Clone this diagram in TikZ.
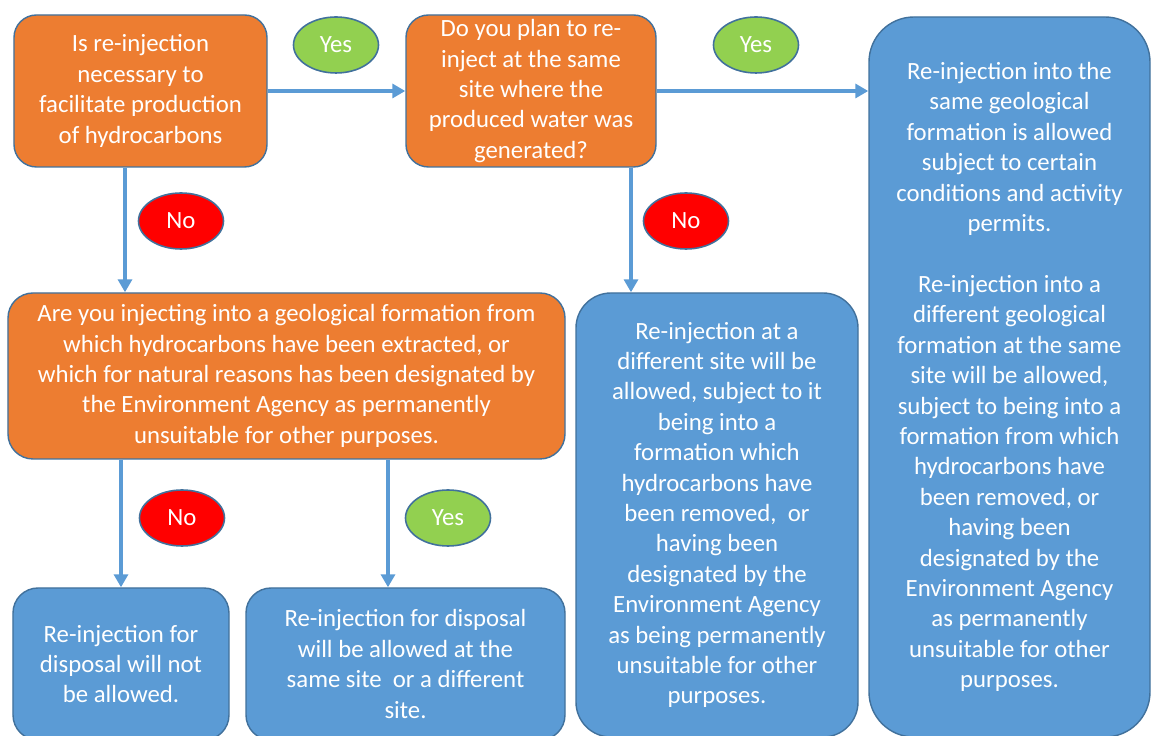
\documentclass[tikz,border=0pt]{standalone}
\usepackage{fontspec}
\setmainfont{Carlito}
\usetikzlibrary{positioning,arrows.meta,shapes.geometric}
\definecolor{quest}{RGB}{237,125,49}
\definecolor{answ}{RGB}{91,155,213}
\definecolor{okgreen}{RGB}{146,208,80}
\definecolor{outline}{RGB}{65,113,156}
\tikzset{
  >={Triangle[width=2.8mm,length=2.6mm]},
  box/.style     ={draw=outline, line width=0.8pt, text=white, align=center, inner sep=0pt,
                   font=\fontsize{14.1}{17.3}\selectfont},
  question/.style={box, fill=quest, rounded corners=4.5mm},
  answer/.style  ={box, fill=answ},
  bubble/.style  ={ellipse, draw=outline, line width=0.9pt, text=white, inner sep=0pt,
                   minimum width=17mm, minimum height=11.2mm, font=\fontsize{14.1}{17.3}\selectfont},
  yesbub/.style  ={bubble, fill=okgreen},
  nobub/.style   ={bubble, fill=red},
  flow/.style    ={draw=answ, line width=2.2pt, ->},
}

\begin{document}
\begin{tikzpicture}
  \clip (0,0) rectangle (23.02,14.72);

  % questions
  \node[question, minimum width=5.06cm, minimum height=3.04cm] (necessary) at (2.81,12.9)
    {Is re-injection\\necessary to\\facilitate production\\of hydrocarbons};
  \node[question, minimum width=5.0cm, minimum height=3.04cm] (samesite) at (10.62,12.9)
    {Do you plan to re-\\inject at the same\\site where the\\produced water was\\generated?};
  \node[question, minimum width=11.14cm, minimum height=3.32cm, rounded corners=5mm] (formation) at (5.73,7.2)
    {Are you injecting into a geological formation from\\which hydrocarbons have been extracted, or\\which for natural reasons has been designated by\\the Environment Agency as permanently\\unsuitable for other purposes.};

  % outcomes
  \node[answer, minimum width=5.62cm, minimum height=14.4cm, rounded corners=9mm] (allowed) at (20.19,7.18)
    {Re-injection into the\\same geological\\formation is allowed\\subject to certain\\conditions and activity\\permits.\\[17.3pt]
     Re-injection into a\\different geological\\formation at the same\\site will be allowed,\\subject to being into a\\formation from which\\hydrocarbons have\\been removed, or\\having been\\designated by the\\Environment Agency\\as permanently\\unsuitable for other\\purposes.};
  \node[answer, minimum width=5.64cm, minimum height=8.88cm, rounded corners=7mm] (othersite) at (14.34,4.42)
    {Re-injection at a\\different site will be\\allowed, subject to it\\being into a\\formation which\\hydrocarbons have\\been removed,~ or\\having been\\designated by the\\Environment Agency\\as being permanently\\unsuitable for other\\purposes.};
  \node[answer, minimum width=4.32cm, minimum height=3.04cm, rounded corners=5mm] (refused) at (2.42,1.44)
    {Re-injection for\\disposal will not\\be allowed.};
  \node[answer, minimum width=6.38cm, minimum height=3.04cm, rounded corners=5mm] (disposal) at (8.11,1.44)
    {Re-injection for disposal\\will be allowed at the\\same site~ or a different\\site.};

  % arrows
  \draw[flow] (necessary.east) -- (samesite.west);
  \draw[flow] (samesite.east) -- (samesite.east -| allowed.west);
  \draw[flow] ([xshift=-3.1mm]necessary.south) -- ([xshift=-3.1mm]necessary.south |- formation.north);
  \draw[flow] ([xshift=20mm]samesite.south) -- ([xshift=20mm]samesite.south |- othersite.north);
  \draw[flow] (refused.north |- formation.south) -- (refused.north);
  \draw[flow] ([xshift=-3.5mm]disposal.north |- formation.south) -- ([xshift=-3.5mm]disposal.north);

  % answers
  \node[yesbub] (yes1) at (6.72,13.82) {Yes};
  \node[yesbub] (yes2) at (15.12,13.82) {Yes};
  \node[nobub]  (no1)  at (3.62,10.3) {No};
  \node[nobub]  (no2)  at (13.72,10.3) {No};
  \node[nobub]  (no3)  at (3.64,4.36) {No};
  \node[yesbub] (yes3) at (8.96,4.36) {Yes};
\end{tikzpicture}
\end{document}
